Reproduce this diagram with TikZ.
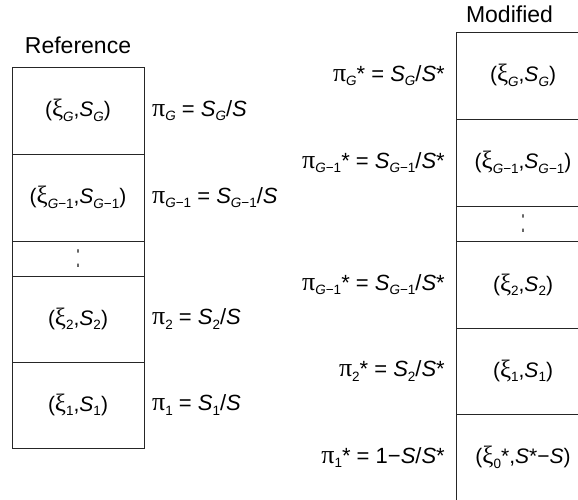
\documentclass[tikz,border=0pt]{standalone}
\usepackage{fontspec}
\setmainfont{Liberation Sans}
\newfontfamily\grk{Liberation Serif}
\newcommand\gx{{\grk\fontsize{25}{25}\selectfont ξ}}
\newcommand\gp{{\grk\fontsize{26}{26}\selectfont π}}
\newcommand\lo[1]{\raisebox{-0.4ex}{\fontsize{13.5}{13.5}\selectfont #1}}
\newcommand\itS{\textit{S}}
\newcommand\itG{\textit{G}}
\newcommand\skipdots{\scalebox{0.6}[1.6]{:}}

\tikzset{
  cell/.style={draw=black!85, line width=0.8pt, rectangle, inner sep=0pt,
               font=\fontsize{21}{23}\selectfont},
  label/.style={inner sep=0pt, font=\fontsize{22}{24}\selectfont},
  title/.style={inner sep=0pt, font=\fontsize{23}{25}\selectfont},
}

\begin{document}
\begin{tikzpicture}[x=1pt, y=-1pt]
\useasboundingbox (0,0) rectangle (578,499);
\clip (0,0) rectangle (578,499);

% Reference column
\node[title] (tref) at (78,45) {Reference};
\node[cell, minimum width=132pt, minimum height=87pt] (rG)  at (78,110.5) {(\gx\lo{\itG},\itS\lo{\itG})};
\node[cell, minimum width=132pt, minimum height=87pt] (rG1) at (78,197.5) {(\gx\lo{\itG−1},\itS\lo{\itG−1})};
\node[cell, minimum width=132pt, minimum height=35pt] (rd)  at (78,258.5) {\skipdots};
\node[cell, minimum width=132pt, minimum height=86pt] (r2)  at (78,319)   {(\gx\lo{2},\itS\lo{2})};
\node[cell, minimum width=132pt, minimum height=86pt] (r1)  at (78,405)   {(\gx\lo{1},\itS\lo{1})};

\node[label, anchor=west] (pG)  at (152,110.5) {\gp\lo{\itG} = \itS\lo{\itG}/\itS};
\node[label, anchor=west] (pG1) at (152,197.5) {\gp\lo{\itG−1} = \itS\lo{\itG−1}/\itS};
\node[label, anchor=west] (p2)  at (152,319)   {\gp\lo{2} = \itS\lo{2}/\itS};
\node[label, anchor=west] (p1)  at (152,405)   {\gp\lo{1} = \itS\lo{1}/\itS};

% Modified column
\node[title] (tmod) at (509.5,14) {Modified};
\node[cell, minimum width=134pt, minimum height=87pt] (mG)  at (523,75.5)  {(\gx\lo{\itG},\itS\lo{\itG})};
\node[cell, minimum width=134pt, minimum height=87pt] (mG1) at (523,162.5) {(\gx\lo{\itG−1},\itS\lo{\itG−1})};
\node[cell, minimum width=134pt, minimum height=35pt] (md)  at (523,223.5) {\skipdots};
\node[cell, minimum width=134pt, minimum height=87pt] (m2)  at (523,284.5) {(\gx\lo{2},\itS\lo{2})};
\node[cell, minimum width=134pt, minimum height=86pt] (m1)  at (523,371)   {(\gx\lo{1},\itS\lo{1})};
\node[cell, minimum width=134pt, minimum height=87pt] (m0)  at (523,457.5) {(\gx\lo{0}*,\itS*−\itS)};

\node[label, anchor=east] (qG)  at (445,75.5)  {\gp\lo{\itG}* = \itS\lo{\itG}/\itS*};
\node[label, anchor=east] (qG1) at (445,162.5) {\gp\lo{\itG−1}* = \itS\lo{\itG−1}/\itS*};
\node[label, anchor=east] (qG2) at (445,284.5) {\gp\lo{\itG−1}* = \itS\lo{\itG−1}/\itS*};
\node[label, anchor=east] (q2)  at (445,371)   {\gp\lo{2}* = \itS\lo{2}/\itS*};
\node[label, anchor=east] (q1)  at (445,457.5) {\gp\lo{1}* = 1−\itS/\itS*};
\end{tikzpicture}
\end{document}
